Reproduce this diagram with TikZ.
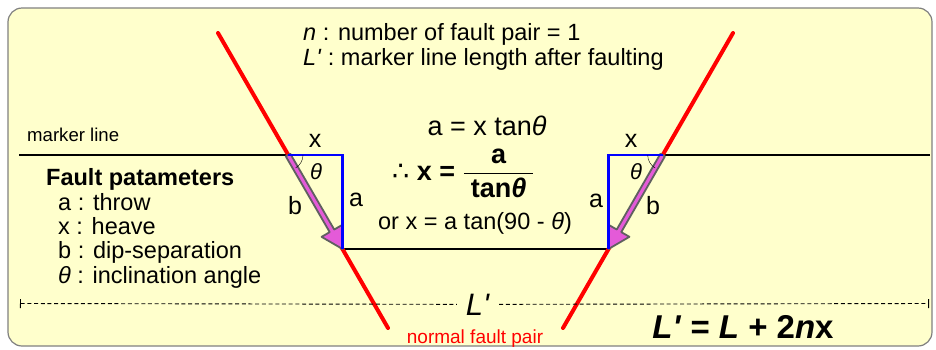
\documentclass[tikz,border=0pt]{standalone}
\usepackage{amsmath}
\usepackage{fontspec}
\setmainfont{Liberation Sans}
\newfontfamily\symfont{DejaVu Sans}
\usepackage{xcolor}
\usetikzlibrary{arrows.meta,calc,angles}
\definecolor{paper}{RGB}{255,255,204}
\definecolor{slipc}{RGB}{228,90,216}

\begin{document}
\begin{tikzpicture}[
x=1pt,
y=-1pt,
every node/.style={font=\fontsize{23.5}{24.3}\selectfont,inner sep=0pt},
frame/.style={rounded corners=14pt,fill=paper,draw=gray,line width=1.2pt},
marker/.style={line width=2.4pt,black},
fault/.style={line width=4pt,red,line cap=round},
comp/.style={line width=2.8pt,blue},
slip/.style={fill=slipc,draw=gray!75!black,line width=1.8pt,line join=round},
ang/.style={draw,thin,angle radius=15pt},
dim/.style={line width=0.9pt,dash pattern=on 4pt off 2.7pt},
side/.style={font=\fontsize{25}{27}\selectfont},
formula/.style={font=\fontsize{27}{29}\selectfont},
small/.style={font=\fontsize{18.6}{20}\selectfont}
]
\useasboundingbox (0,0) rectangle (936,349);
\draw[frame] (8,8) rectangle (932,346);

\coordinate (ml) at (19,155);
\coordinate (mr) at (930,155);
\coordinate (tl) at (288,155);
\coordinate (bl) at (342.5,249);
\coordinate (tr) at (662.7,155);
\coordinate (br) at (608.5,249);
\coordinate (cl) at (bl |- tl);
\coordinate (cr) at (br |- tr);
\coordinate (ftl) at (218,33);
\coordinate (fbl) at (388,328);
\coordinate (ftr) at (733,33);
\coordinate (fbr) at (563,328);
\coordinate (dl) at (20,303.5);
\coordinate (dr) at (929,303.5);

\draw[marker] (ml) -- (tl);
\draw[marker] (tr) -- (mr);
\draw[marker] (bl) -- (br);
\draw[fault] (ftl) -- (fbl);
\draw[fault] (ftr) -- (fbr);
\foreach \s/\e in {tl/bl,tr/br}{
  \coordinate (hb) at ($(\e)!21pt!(\s)$);
  \draw[slip] ($(\s)!2.6pt!90:(\e)$) -- ($(hb)!2.6pt!90:(\e)$) -- ($(hb)!12pt!90:(\e)$)
    -- (\e) -- ($(hb)!12pt!-90:(\e)$) -- ($(hb)!2.6pt!-90:(\e)$) -- ($(\s)!2.6pt!-90:(\e)$) -- cycle;
}
\draw[comp] (tl) -- (cl) -- (bl);
\draw[comp] (tr) -- (cr) -- (br);
\pic[ang] {angle=bl--tl--cl};
\pic[ang] {angle=cr--tr--br};

\node[anchor=base west,align=left] (notes) at (303,65) {\textit{n} : number of fault pair = 1\\\textit{L\textquotesingle} : marker line length after faulting};
\node[small,anchor=base west] (mlbl) at (27,141.5) {marker line};
\node[side] (xl) at (315,140.5) {x};
\node[side] (xr) at (631,140.5) {x};
\node[font=\fontsize{22}{24}\selectfont] (thl) at (316,172) {\textit{θ}};
\node[font=\fontsize{22}{24}\selectfont] (thr) at (636,172) {\textit{θ}};
\node[side] (al) at (356,199.5) {a};
\node[side] (ar) at (596,201) {a};
\node[side] (bll) at (295,206) {b};
\node[side] (blr) at (653,206) {b};
\node[formula,anchor=base] (eq1) at (487,135) {a = x tan\textit{θ}};
\node[formula,anchor=base west] (eq2) at (392,180) {{\symfont ∴} \textbf{x =} $\dfrac{\text{\bfseries a}}{\text{\bfseries\hspace{7pt}tan\textit{θ}\hspace{7pt}}}$};
\node[anchor=base] (eq3) at (475,229) {or x = a tan(90 - \textit{θ})};
\node[anchor=base west,align=left] (params) at (46,283) {\textbf{Fault patameters}\\\hspace*{12pt}a : throw\\\hspace*{12pt}x : heave\\\hspace*{12pt}b : dip-separation\\\hspace*{12pt}\textit{θ} : inclination angle};
\node[font=\fontsize{31}{33}\selectfont,anchor=base,inner xsep=9pt] (lp) at (478,315) {\textit{L\textquotesingle}};
\draw[dim,{Bar[width=9pt]}-] (dl) -- (lp.west);
\draw[dim,-{Bar[width=9pt]}] (lp.east) -- (dr);
\node[font=\fontsize{19}{21}\selectfont,text=red,anchor=base] (nfp) at (475,343) {normal fault pair};
\node[font=\fontsize{33}{35}\selectfont\bfseries,anchor=base] (leq) at (743,338) {\textit{L\textquotesingle} = \textit{L} + 2\textit{n}x};
\end{tikzpicture}
\end{document}
